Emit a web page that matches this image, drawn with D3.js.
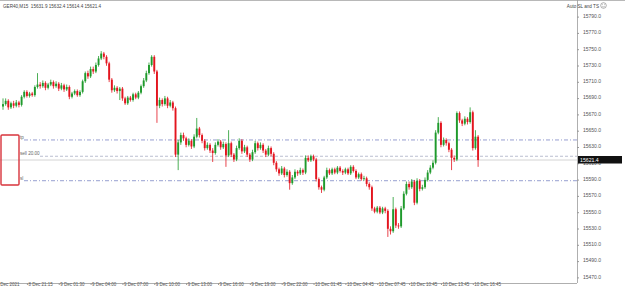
<!DOCTYPE html>
<html><head><meta charset="utf-8">
<script src="https://cdn.jsdelivr.net/npm/d3@7"></script>
<style>body{margin:0;background:#fff;}svg{display:block;}</style>
</head><body>
<svg id="c" width="625" height="290"></svg>
<script>
const opens=[15687,15690,15694,15686,15691,15688,15692,15689,15699,15705,15700,15703,15701,15711,15714,15712,15716,15710,15714,15717,15712,15715,15709,15713,15708,15711,15699,15703,15706,15701,
15705,15718,15728,15724,15733,15730,15738,15746,15752,15748,15740,15720,15707,15710,15706,15709,15697,15691,15698,15695,15702,15698,15704,15712,15719,15728,15738,15748,15730,15688,
15695,15690,15697,15688,15692,15685,15628,15643,15652,15648,15640,15645,15638,15650,15660,15652,15645,15636,15640,15633,15630,15640,15644,15637,15641,15627,15642,15628,15622,15636,
15645,15632,15637,15628,15622,15631,15642,15636,15640,15633,15628,15636,15629,15618,15610,15605,15611,15603,15607,15593,15600,15607,15605,15609,15606,15624,15621,15626,15622,15598,
15588,15585,15600,15609,15605,15610,15606,15612,15608,15606,15610,15605,15613,15608,15600,15604,15598,15599,15592,15588,15562,15558,15563,15557,15562,15559,15537,15534,15561,15541,
15540,15562,15580,15592,15588,15595,15569,15596,15586,15588,15597,15606,15612,15618,15655,15667,15640,15646,15642,15634,15624,15622,15679,15670,15666,15672,15668,15680,15636,15650];
const closes=[15690,15694,15686,15691,15688,15692,15689,15699,15705,15700,15703,15701,15711,15714,15712,15716,15710,15714,15717,15712,15715,15709,15713,15708,15711,15699,15703,15706,15701,15705,
15718,15728,15724,15733,15730,15738,15746,15752,15748,15740,15720,15707,15710,15706,15709,15697,15691,15698,15695,15702,15698,15704,15712,15719,15728,15738,15748,15730,15688,15695,
15690,15697,15688,15692,15685,15628,15643,15652,15648,15640,15645,15638,15650,15660,15652,15645,15636,15640,15633,15630,15640,15644,15637,15641,15627,15642,15628,15622,15636,15645,
15632,15637,15628,15622,15631,15642,15636,15640,15633,15628,15636,15629,15618,15610,15605,15611,15603,15607,15593,15600,15607,15605,15609,15606,15624,15621,15626,15622,15598,15588,
15585,15600,15609,15605,15610,15606,15612,15608,15606,15610,15605,15613,15608,15600,15604,15598,15599,15592,15588,15562,15558,15563,15557,15562,15559,15537,15534,15561,15541,15540,
15562,15580,15592,15588,15595,15569,15596,15586,15588,15597,15606,15612,15618,15655,15667,15640,15646,15642,15634,15624,15622,15679,15670,15666,15672,15668,15680,15636,15650,15621.4];
const highs=[15697,15697,15696,15693,15694,15695,15694,15701,15707,15707,15705,15705,15713,15728,15717,15719,15718,15716,15720,15719,15718,15717,15716,15715,15714,15713,15705,15708,15708,15707,
15720,15730,15731,15736,15736,15741,15749,15755,15754,15750,15742,15722,15713,15712,15711,15711,15699,15700,15700,15704,15704,15706,15714,15722,15731,15741,15750,15750,15732,15698,
15697,15700,15699,15695,15694,15687,15646,15655,15655,15650,15648,15647,15653,15673,15662,15654,15647,15643,15642,15636,15643,15647,15646,15644,15643,15658,15644,15630,15639,15648,
15647,15640,15639,15630,15634,15645,15644,15643,15642,15635,15639,15638,15631,15620,15612,15614,15613,15610,15609,15603,15610,15609,15612,15611,15627,15627,15628,15628,15624,15600,
15590,15602,15612,15611,15612,15612,15614,15614,15610,15612,15612,15615,15615,15610,15606,15606,15602,15601,15594,15590,15564,15565,15565,15564,15564,15561,15540,15576,15563,15544,
15565,15583,15595,15595,15598,15597,15599,15598,15591,15600,15609,15615,15621,15658,15674,15669,15649,15648,15644,15636,15627,15681,15681,15672,15675,15674,15686,15682,15658,15652];
const lows=[15683,15688,15683,15684,15685,15686,15686,15687,15697,15698,15698,15699,15699,15709,15709,15710,15707,15708,15712,15709,15710,15706,15707,15705,15706,15696,15697,15701,15699,15699,
15703,15716,15721,15722,15727,15728,15736,15744,15745,15737,15717,15704,15705,15703,15695,15694,15689,15689,15693,15693,15696,15696,15702,15710,15717,15726,15736,15727,15667,15685,
15687,15688,15685,15686,15682,15625,15609,15640,15645,15637,15638,15635,15636,15648,15649,15642,15633,15634,15630,15619,15628,15638,15634,15635,15613,15625,15625,15619,15620,15634,
15629,15630,15625,15619,15620,15629,15633,15634,15630,15625,15626,15626,15615,15607,15602,15603,15600,15601,15585,15591,15598,15602,15603,15603,15604,15619,15619,15620,15595,15585,
15581,15583,15598,15603,15603,15604,15604,15606,15603,15604,15603,15603,15606,15598,15598,15596,15596,15589,15585,15559,15556,15556,15555,15555,15556,15527,15530,15532,15538,15537,
15538,15560,15578,15585,15586,15566,15567,15583,15584,15586,15595,15604,15610,15616,15653,15637,15638,15639,15631,15609,15619,15620,15667,15663,15664,15665,15666,15633,15634,15613];

const timeTickIdx=[-3,9,21,33,45,57,69,81,93,105,117,129,141,153,165,177];
const timeTickLabels=["8 Dec 2021","8 Dec 21:15","9 Dec 01:30","9 Dec 04:00","9 Dec 07:00","9 Dec 10:00","9 Dec 13:00","9 Dec 16:00","9 Dec 19:00","9 Dec 22:00","10 Dec 01:45","10 Dec 04:45","10 Dec 07:45","10 Dec 10:45","10 Dec 13:45","10 Dec 16:45"];
const priceTicks=[15790,15770,15750,15730,15710,15690,15670,15650,15630,15610,15590,15570,15550,15530,15510,15490,15470];
const orderLevels=[{name:"tp",value:15646},{name:"sell 20.00",value:15626},{name:"sl",value:15596}];
const bidPrice=15621.4;
const titleText="GER40,M15  15631.9 15632.4 15614.4 15621.4";
const eaText="Auto SL and TS";

const svg=d3.select("#c");
const W=625,H=290,plotR=577,plotB=283;
const x=d3.scaleLinear().domain([0,179]).range([3,478.1]);
const y=d3.scaleLinear().domain([15470,15790]).range([283.4,22.6]);
const up="#1f9a2c",dn="#e3151f";
const font="'Liberation Sans', Arial, sans-serif";

svg.append("line").attr("x1",0).attr("x2",W).attr("y1",0.5).attr("y2",0.5).attr("stroke","#b8b8b8");

const lv=svg.append("g");
lv.append("line").attr("x1",0).attr("x2",plotR).attr("y1",y(bidPrice)).attr("y2",y(bidPrice)).attr("stroke","#c9c9c9").attr("stroke-width",0.8);
orderLevels.forEach(o=>{
  const isSell=o.name.startsWith("sell");
  lv.append("line").attr("x1",isSell?40:24).attr("x2",plotR).attr("y1",y(o.value)).attr("y2",y(o.value))
    .attr("stroke",isSell?"#a9afc4":"#7c86c4").attr("stroke-width",0.8)
    .attr("stroke-dasharray",isSell?"3,2":"4,2,1,2");
  lv.append("text").attr("x",20).attr("y",y(o.value)-1).text(o.name)
    .attr("font-family",font).attr("font-size",4.6).attr("fill","#666");
});

const idx=d3.range(closes.length);
const cg=svg.append("g");
cg.selectAll("line.w").data(idx).join("line")
  .attr("x1",i=>x(i)).attr("x2",i=>x(i)).attr("y1",i=>y(highs[i])).attr("y2",i=>y(lows[i]))
  .attr("stroke",i=>closes[i]>=opens[i]?up:dn).attr("stroke-width",0.8);
cg.selectAll("rect").data(idx).join("rect")
  .attr("x",i=>x(i)-0.95).attr("width",1.9)
  .attr("y",i=>y(Math.max(opens[i],closes[i])))
  .attr("height",i=>Math.max(0.8,Math.abs(y(opens[i])-y(closes[i]))))
  .attr("fill",i=>closes[i]>=opens[i]?up:dn);

svg.append("rect").attr("x",1).attr("y",135).attr("width",18).attr("height",50).attr("rx",1)
  .attr("fill","none").attr("stroke","#d8343c").attr("stroke-width",1.4);

const ra=svg.append("g").attr("transform",`translate(${plotR},0)`);
ra.append("line").attr("x1",0.5).attr("x2",0.5).attr("y1",0).attr("y2",plotB).attr("stroke","#9a9a9a").attr("stroke-width",0.8);
const yAxis=d3.axisRight(y).tickValues(priceTicks).tickFormat(d=>d.toFixed(1)).tickSize(2).tickPadding(4);
const yg=ra.append("g").call(yAxis);
yg.select(".domain").remove();
yg.selectAll(".tick line").attr("stroke","#999").attr("transform","translate(0,-6)");
yg.selectAll(".tick text").attr("font-family",font).attr("font-size",5).attr("fill","#555").attr("dy","-5.2");

svg.append("rect").attr("x",578).attr("y",y(bidPrice)-4).attr("width",44).attr("height",7.5).attr("fill","#111");
svg.append("text").attr("x",580).attr("y",y(bidPrice)+1.8).text(bidPrice.toFixed(1))
  .attr("font-family",font).attr("font-size",5.2).attr("fill","#fff");

const ba=svg.append("g").attr("transform",`translate(0,${plotB})`);
ba.append("line").attr("x1",0).attr("x2",plotR).attr("y1",0.5).attr("y2",0.5).attr("stroke","#9a9a9a").attr("stroke-width",0.8);
const xAxis=d3.axisBottom(x).tickValues(timeTickIdx).tickFormat((d,i)=>timeTickLabels[i]).tickSize(2).tickPadding(1);
const xg=ba.append("g").call(xAxis);
xg.select(".domain").remove();
xg.selectAll(".tick line").attr("stroke","#999");
xg.selectAll(".tick text").attr("font-family",font).attr("font-size",4.5).attr("fill","#555")
  .attr("text-anchor","start").attr("dx",1).attr("dy","0.1em");

svg.append("text").attr("x",3).attr("y",7.5).text(titleText).attr("font-family",font).attr("font-size",4.6).attr("fill","#444").attr("xml:space","preserve");
svg.append("text").attr("x",599).attr("y",7.5).attr("text-anchor","end").text(eaText).attr("font-family",font).attr("font-size",4.6).attr("fill","#444");
const sm=svg.append("g").attr("transform","translate(603.5,5.5)");
sm.append("circle").attr("r",2.8).attr("fill","#fff").attr("stroke","#777").attr("stroke-width",0.6);
sm.append("circle").attr("cx",-1).attr("cy",-0.8).attr("r",0.4).attr("fill","#777");
sm.append("circle").attr("cx",1).attr("cy",-0.8).attr("r",0.4).attr("fill","#777");
sm.append("path").attr("d","M-1.3,0.7 Q0,2 1.3,0.7").attr("fill","none").attr("stroke","#777").attr("stroke-width",0.5);
</script>
</body></html>
